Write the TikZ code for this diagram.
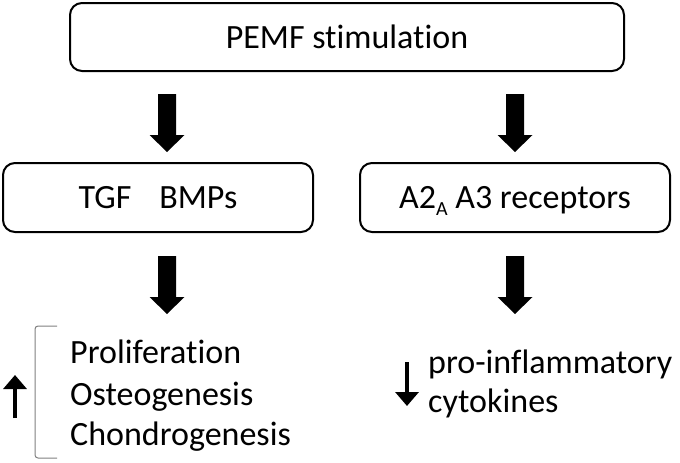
\documentclass[tikz,border=0pt]{standalone}
\usepackage{fontspec}
\setmainfont{Carlito}[Ligatures={NoCommon}]
\usetikzlibrary{arrows.meta,calc}
\tikzset{
  box/.style={draw=black, line width=2pt, rounded corners=12pt, inner sep=0pt,
    font=\fontsize{34}{40}\selectfont, text height=22pt, text depth=0pt},
  lbl/.style={inner sep=0pt, anchor=base west, font=\fontsize{34}{40}\selectfont},
  thinarrow/.style={line width=3.6pt, -{Triangle[width=23pt,length=14pt]}},
  bracket/.style={draw=gray, line width=1pt, rounded corners=3pt}
}
\newcommand\blockarrow[2]{%
  \fill[black] ($(#1)+(-9,0)$) -- ($(#1)+(9,0)$) -- ($(#2)+(9,-17)$) -- ($(#2)+(17.5,-17)$)
   -- (#2) -- ($(#2)+(-17.5,-17)$) -- ($(#2)+(-9,-17)$) -- cycle;}
\begin{document}
\begin{tikzpicture}[x=1pt, y=-1pt]
\useasboundingbox (0,0) rectangle (680,463);
\node[box, minimum width=554pt, minimum height=68pt] (pemf) at (347,37) {PEMF stimulation};
\node[box, minimum width=310pt, minimum height=69pt] (tgf) at (158,197.5) {TGF\hspace{28pt}BMPs};
\node[box, minimum width=310pt, minimum height=69pt] (aden) at (515,197.5)
  {A2\raisebox{-7pt}{\fontsize{20}{20}\selectfont A} A3 receptors};
% block arrows
\coordinate (a1s) at (167,94);  \coordinate (a1e) at (167,152);
\coordinate (a2s) at (515,94);  \coordinate (a2e) at (515,152);
\coordinate (a3s) at (167,256); \coordinate (a3e) at (167,314);
\coordinate (a4s) at (515,256); \coordinate (a4e) at (515,314);
\blockarrow{a1s}{a1e}
\blockarrow{a2s}{a2e}
\blockarrow{a3s}{a3e}
\blockarrow{a4s}{a4e}
% bottom left
\node[lbl] (prol) at (70,363) {Proliferation};
\node[lbl] (oste) at (70,405) {Osteogenesis};
\node[lbl] (chon) at (70,445) {Chondrogenesis};
\draw[bracket] (57,326) -- (35,326) -- (35,458) -- (57,458);
\coordinate (up1) at (15,418); \coordinate (up2) at (15,375);
\draw[thinarrow] (up1) -- (up2);
% bottom right
\node[lbl] (pro) at (428,373) {pro-inflammatory};
\node[lbl] (cyto) at (428,412) {cytokines};
\coordinate (dn1) at (407,362); \coordinate (dn2) at (407,406);
\draw[thinarrow] (dn1) -- (dn2);
\end{tikzpicture}
\end{document}
